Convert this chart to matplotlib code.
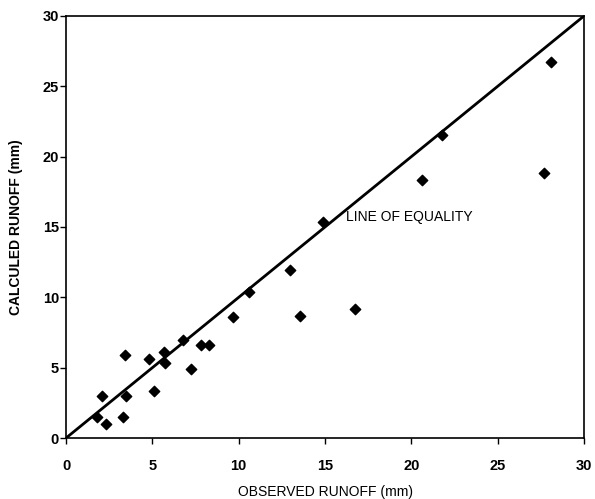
import matplotlib
matplotlib.use("Agg")
from matplotlib import pyplot as plt

# observed vs calculated runoff (mm)
observed = [1.78, 2.30, 2.07, 3.29, 3.39, 3.46, 4.78, 5.09, 5.65, 5.73, 6.75, 7.23,
            7.82, 8.30, 9.65, 13.54, 14.88, 13.0, 10.62, 16.75, 28.07, 21.8, 20.64, 27.7]
calculated = [1.51, 0.97, 3.0, 1.51, 5.9, 3.0, 5.6, 3.36, 6.09, 5.35, 6.97, 4.9,
              6.61, 6.61, 8.58, 8.67, 15.33, 11.94, 10.35, 9.19, 26.72, 21.54, 18.34, 18.81]
equality = [0, 30]
ticks = [0, 5, 10, 15, 20, 25, 30]

plt.rcParams['font.family'] = ['Liberation Sans', 'DejaVu Sans']

fig = plt.figure(figsize=(5.95, 4.99), dpi=100)
ax = fig.add_axes([0.111, 0.1222, 0.8705, 0.8458])

ax.plot(equality, equality, color='black', linewidth=2)
ax.scatter(observed, calculated, marker='D', s=28, color='black', zorder=3)
ax.text(16.2, 15.7, 'LINE OF EQUALITY', fontsize=10, va='center')

ax.set_xlim(0, 30)
ax.set_ylim(0, 30)
ax.set_xticks(ticks)
ax.set_yticks(ticks)
ax.tick_params(direction='out', length=4, width=1, labelsize=10.5)
ax.tick_params(axis='x', pad=11)
ax.tick_params(axis='y', pad=1)
for lab in ax.get_xticklabels() + ax.get_yticklabels():
    lab.set_fontweight('bold')
for sp in ax.spines.values():
    sp.set_linewidth(1.2)

ax.set_xlabel('OBSERVED RUNOFF (mm)', fontsize=10, labelpad=9)
ax.set_ylabel('CALCULED RUNOFF (mm)', fontsize=10, fontweight='bold', labelpad=14)

fig.savefig('out.png', dpi=100)
